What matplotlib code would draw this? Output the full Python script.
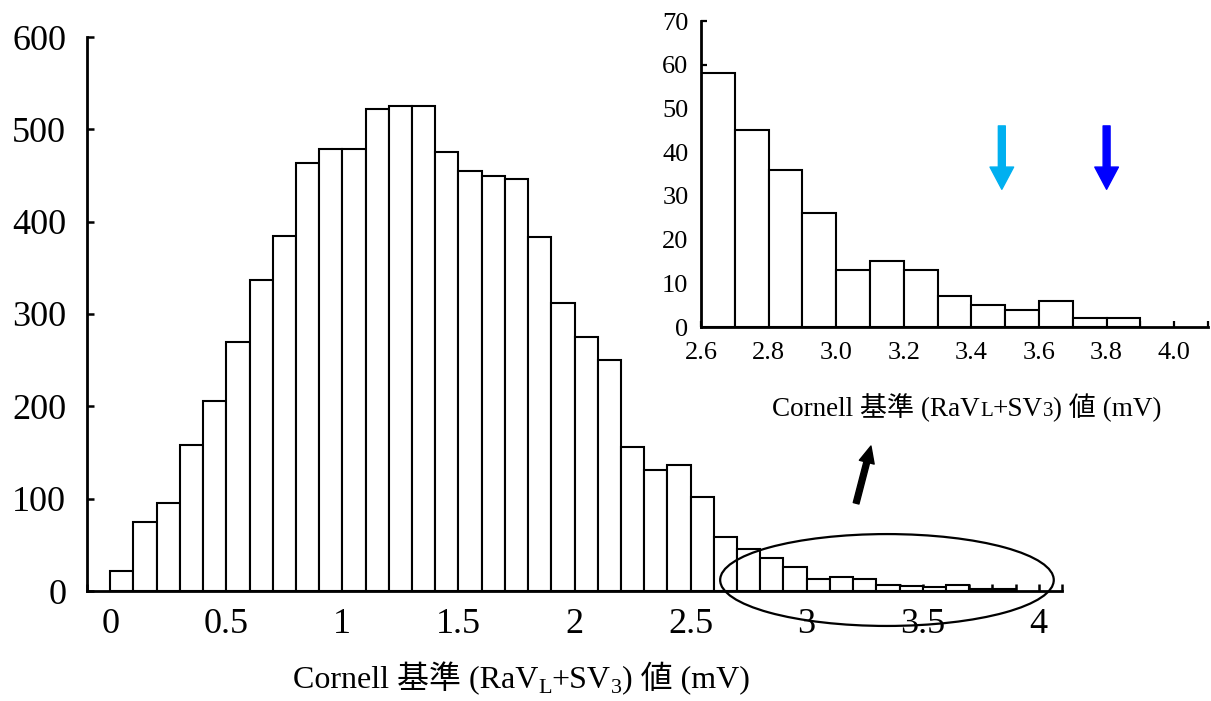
import matplotlib
matplotlib.use("Agg")
import matplotlib.pyplot as plt
import numpy as np
from matplotlib.patches import Ellipse, FancyArrowPatch
from matplotlib.ticker import MultipleLocator

# ---------------- data ----------------
bin_left = [0.0, 0.1, 0.2, 0.3, 0.4, 0.5, 0.6, 0.7, 0.8, 0.9,
            1.0, 1.1, 1.2, 1.3, 1.4, 1.5, 1.6, 1.7, 1.8, 1.9,
            2.0, 2.1, 2.2, 2.3, 2.4, 2.5, 2.6, 2.7, 2.8, 2.9,
            3.0, 3.1, 3.2, 3.3, 3.4, 3.5, 3.6, 3.7, 3.8]
counts = [22, 75, 95, 158, 206, 270, 337, 385, 463, 479,
          479, 522, 525, 525, 475, 455, 450, 446, 383, 312,
          275, 250, 156, 131, 136, 102, 58, 45, 36, 26,
          13, 15, 13, 7, 5, 4, 6, 2, 2]
bin_width = 0.1

main_xticks = [0, 0.5, 1, 1.5, 2, 2.5, 3, 3.5, 4]
main_xticklabels = ["0", "0.5", "1", "1.5", "2", "2.5", "3", "3.5", "4"]
main_yticks = [0, 100, 200, 300, 400, 500, 600]

inset_start = 2.6
inset_xticks = [2.6, 2.8, 3.0, 3.2, 3.4, 3.6, 3.8, 4.0]
inset_xticklabels = ["2.6", "2.8", "3.0", "3.2", "3.4", "3.6", "3.8", "4.0"]
inset_yticks = [0, 10, 20, 30, 40, 50, 60, 70]

# marker arrows in inset: (x, y_top, y_tip, colour)
inset_arrows = [(3.49, 46, 31.5, "#00B0F0"), (3.80, 46, 31.5, "#0000FF")]

FAM = ["Liberation Serif", "Noto Sans CJK JP", "DejaVu Sans"]
plt.rcParams["font.family"] = FAM

fig = plt.figure(figsize=(12.11, 7.01), dpi=100)
W, H = 1211, 701

def fig_rect(l, t, r, b):
    return [l / W, (H - b) / H, (r - l) / W, (b - t) / H]

# ---------------- main axes ----------------
ax = fig.add_axes(fig_rect(87, 37, 1062, 591))
ax.bar(bin_left, counts, width=bin_width, align="edge", color="white",
       edgecolor="black", linewidth=1.5, zorder=2)
ax.set_xlim(-0.1, 4.1)
ax.set_ylim(0, 600)
for s in ["top", "right"]:
    ax.spines[s].set_visible(False)
for s in ["left", "bottom"]:
    ax.spines[s].set_linewidth(2.0)
    ax.spines[s].set_zorder(3)
ax.set_xticks(main_xticks)
ax.set_xticklabels(main_xticklabels)
ax.xaxis.set_minor_locator(MultipleLocator(0.1))
ax.set_yticks(main_yticks)
ax.tick_params(axis="both", which="both", direction="in", length=5, width=1.8,
               labelsize=26)
ax.tick_params(axis="x", which="both", pad=12)
ax.tick_params(axis="y", which="both", pad=15)

# ellipse around tail
ell = Ellipse((3.346, 11.9), 1.437, 99.5, fill=False, edgecolor="black",
              linewidth=1.6, clip_on=False, zorder=5)
ax.add_patch(ell)

# black arrow pointing to inset
arr = FancyArrowPatch((3.213, 95), (3.277, 157),
                      arrowstyle="simple,head_length=12,head_width=11,tail_width=4.2",
                      mutation_scale=1, color="black", shrinkA=0, shrinkB=0,
                      clip_on=False, zorder=6)
ax.add_patch(arr)

# ---------------- inset axes ----------------
ai = fig.add_axes(fig_rect(701, 21, 1208, 327))
inset_left = [b for b in bin_left if b >= inset_start - 1e-9]
inset_counts = counts[len(bin_left) - len(inset_left):]
ai.bar(inset_left, inset_counts, width=bin_width, align="edge", color="white",
       edgecolor="black", linewidth=1.5, zorder=2)
ai.set_xlim(2.6, 4.1)
ai.set_ylim(0, 70)
for s in ["top", "right"]:
    ai.spines[s].set_visible(False)
for s in ["left", "bottom"]:
    ai.spines[s].set_linewidth(2.0)
    ai.spines[s].set_zorder(3)
ai.set_xticks(inset_xticks)
ai.set_xticklabels(inset_xticklabels)
ai.xaxis.set_minor_locator(MultipleLocator(0.1))
ai.set_yticks(inset_yticks)
ai.tick_params(axis="both", which="both", direction="in", length=4, width=1.6,
               labelsize=19)
ai.tick_params(axis="x", which="both", pad=11)
ai.tick_params(axis="y", which="both", pad=9)

for x, ytop, ytip, col in inset_arrows:
    a = FancyArrowPatch((x, ytop), (x, ytip),
                        arrowstyle="simple,head_length=16,head_width=17,tail_width=5",
                        mutation_scale=1, color=col, shrinkA=0, shrinkB=0, zorder=6)
    ai.add_patch(a)

# ---------------- composite labels ----------------
def rich_label(pieces, xc_px, base_px):
    renderer = fig.canvas.get_renderer()
    texts, widths = [], []
    for s, size, dy in pieces:
        t = fig.text(0, 0, s, fontsize=size, family=FAM, ha="left", va="baseline")
        widths.append(t.get_window_extent(renderer).width)
        texts.append(t)
    total = sum(widths)
    x = xc_px - total / 2
    for t, w, (s, size, dy) in zip(texts, widths, pieces):
        # dy > 0 moves the piece down (subscript)
        t.set_position((x / W, (H - (base_px + dy)) / H))
        x += w

rich_label([("Cornell 基準 (RaV", 23, 0), ("L", 16, 5), ("+SV", 23, 0),
            ("3", 16, 5), (") 値 (mV)", 23, 0)], 521, 688)
rich_label([("Cornell 基準 (RaV", 19.5, 0), ("L", 15, 0), ("+SV", 19.5, 0),
            ("3", 15, 0), (") 値 (mV)", 19.5, 0)], 967, 416)

fig.savefig("out.png", dpi=100)
